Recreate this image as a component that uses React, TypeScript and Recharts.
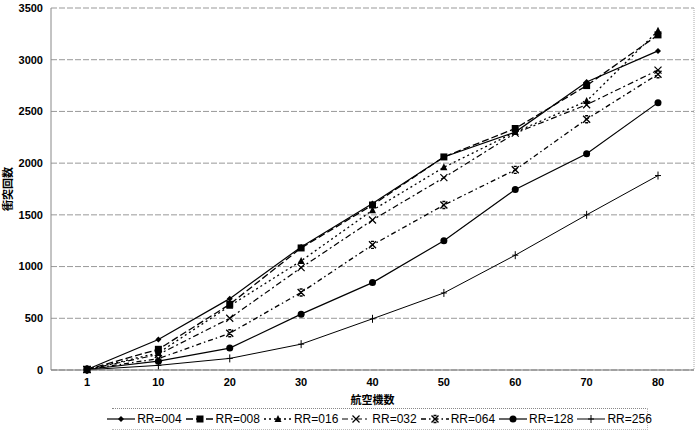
import React from "react";
import {
  LineChart,
  Line,
  XAxis,
  YAxis,
  CartesianGrid,
  Legend,
  Label,
} from "recharts";

// 航空機数 (x categories)
const aircraft = ["1", "10", "20", "30", "40", "50", "60", "70", "80"];

// 衝突回数 per RR setting
const rr004 = [5, 295, 690, 1190, 1610, 2060, 2300, 2785, 3085];
const rr008 = [5, 200, 635, 1180, 1595, 2060, 2335, 2750, 3240];
const rr016 = [5, 165, 620, 1055, 1545, 1960, 2300, 2600, 3280];
const rr032 = [5, 150, 500, 990, 1450, 1860, 2290, 2565, 2900];
const rr064 = [5, 110, 355, 750, 1210, 1595, 1935, 2425, 2860];
const rr128 = [5, 85, 212, 540, 845, 1250, 1745, 2090, 2585];
const rr256 = [2, 45, 112, 250, 495, 745, 1110, 1500, 1880];

const yTicks = [0, 500, 1000, 1500, 2000, 2500, 3000, 3500];

type Marker = "diamond" | "square" | "triangle" | "x" | "star" | "circle" | "plus";

const seriesList: { key: string; name: string; marker: Marker; dash?: string; width: number }[] = [
  { key: "rr004", name: "RR=004", marker: "diamond", width: 1.2 },
  { key: "rr008", name: "RR=008", marker: "square", dash: "7 3", width: 1.3 },
  { key: "rr016", name: "RR=016", marker: "triangle", dash: "2 3", width: 1.3 },
  { key: "rr032", name: "RR=032", marker: "x", dash: "6 3 2 3", width: 1.2 },
  { key: "rr064", name: "RR=064", marker: "star", dash: "5 3 1.5 3", width: 1.3 },
  { key: "rr128", name: "RR=128", marker: "circle", width: 1.2 },
  { key: "rr256", name: "RR=256", marker: "plus", width: 1 },
];

const data = aircraft.map((a, i) => ({
  a,
  rr004: rr004[i],
  rr008: rr008[i],
  rr016: rr016[i],
  rr032: rr032[i],
  rr064: rr064[i],
  rr128: rr128[i],
  rr256: rr256[i],
}));

function MarkerShape({ kind, cx, cy }: { kind: Marker; cx: number; cy: number }) {
  const c = "#000";
  switch (kind) {
    case "diamond":
      return <path d={`M${cx},${cy - 3}L${cx + 3},${cy}L${cx},${cy + 3}L${cx - 3},${cy}Z`} fill={c} />;
    case "square":
      return <rect x={cx - 3.5} y={cy - 3.5} width={7} height={7} fill={c} />;
    case "triangle":
      return <path d={`M${cx},${cy - 4}L${cx + 3.5},${cy + 3}L${cx - 3.5},${cy + 3}Z`} fill={c} />;
    case "x":
      return (
        <path d={`M${cx - 3.5},${cy - 3.5}L${cx + 3.5},${cy + 3.5}M${cx + 3.5},${cy - 3.5}L${cx - 3.5},${cy + 3.5}`} stroke={c} strokeWidth={1.2} fill="none" />
      );
    case "star":
      return (
        <path
          d={`M${cx - 3.5},${cy - 3.5}L${cx + 3.5},${cy + 3.5}M${cx + 3.5},${cy - 3.5}L${cx - 3.5},${cy + 3.5}M${cx - 1.5},${cy - 3.5}L${cx + 1.5},${cy - 3.5}M${cx - 1.5},${cy + 3.5}L${cx + 1.5},${cy + 3.5}`}
          stroke={c}
          strokeWidth={1.4}
          fill="none"
        />
      );
    case "circle":
      return <circle cx={cx} cy={cy} r={3.5} fill={c} />;
    case "plus":
      return <path d={`M${cx},${cy - 4}L${cx},${cy + 4}M${cx - 3},${cy}L${cx + 3},${cy}`} stroke={c} strokeWidth={1} fill="none" />;
  }
  return null;
}

const makeDot = (kind: Marker) => (props: any) => {
  const { cx, cy, index } = props;
  if (cx == null || cy == null) return <g key={`d-${kind}-${index}`} />;
  return (
    <g key={`d-${kind}-${index}`}>
      <MarkerShape kind={kind} cx={cx} cy={cy} />
    </g>
  );
};

const font = '"Liberation Sans", Arial, sans-serif';
const jpFont = '"Noto Sans CJK JP", sans-serif';

function LegendBox() {
  return (
    <div
      style={{
        display: "flex",
        justifyContent: "center",
        alignItems: "center",
        height: 20,
        borderTop: "1px dotted #888",
        borderBottom: "1px dotted #bbb",
        borderRight: "1px dotted #bbb",
        fontFamily: font,
        fontSize: 12,
        color: "#000",
        gap: 4,
      }}
    >
      {seriesList.map((s) => (
        <span key={s.key} style={{ display: "inline-flex", alignItems: "center" }}>
          <svg width={28} height={10}>
            <line x1={0} y1={5} x2={28} y2={5} stroke="#000" strokeWidth={s.width} strokeDasharray={s.dash} />
            <MarkerShape kind={s.marker} cx={14} cy={5} />
          </svg>
          <span style={{ marginLeft: 2 }}>{s.name}</span>
        </span>
      ))}
    </div>
  );
}

export default function App() {
  return (
    <div style={{ position: "absolute", left: 0, top: 0, background: "#fff" }}>
      <LineChart
        width={700}
        height={435}
        data={data}
        margin={{ top: 8, right: 5, left: 0, bottom: 3 }}
      >
        <CartesianGrid vertical={false} stroke="#999" strokeDasharray="6 2" />
        <XAxis
          dataKey="a"
          height={40}
          padding={{ left: 36, right: 36 }}
          tickLine={false}
          axisLine={{ stroke: "#777" }}
          tick={{ fontSize: 11, fill: "#000", fontFamily: font, fontWeight: "bold" }}
        >
          <Label
            value="航空機数"
            position="insideBottom"
            offset={6}
            style={{ fontSize: 11, fill: "#000", fontFamily: jpFont, fontWeight: "bold" }}
          />
        </XAxis>
        <YAxis
          width={51}
          domain={[0, 3500]}
          ticks={yTicks}
          interval={0}
          tickLine={false}
          axisLine={{ stroke: "#888" }}
          tick={{ fontSize: 11, fill: "#000", fontFamily: font, fontWeight: "bold" }}
        >
          <Label
            value="衝突回数"
            angle={-90}
            position="insideLeft"
            offset={8}
            style={{ fontSize: 11, fill: "#000", fontFamily: jpFont, fontWeight: "bold", textAnchor: "middle" }}
          />
        </YAxis>
        <YAxis
          yAxisId="frame"
          orientation="right"
          width={1}
          domain={[0, 3500]}
          tick={false}
          tickLine={false}
          axisLine={{ stroke: "#aaa", strokeDasharray: "1 1" }}
        />
        {seriesList.map((s) => (
          <Line
            key={s.key}
            dataKey={s.key}
            name={s.name}
            type="linear"
            stroke="#000"
            strokeWidth={s.width}
            strokeDasharray={s.dash}
            dot={makeDot(s.marker)}
            activeDot={false}
            isAnimationActive={false}
          />
        ))}
        <Legend
          verticalAlign="bottom"
          content={() => <LegendBox />}
          wrapperStyle={{ left: 112, width: 536, bottom: 5, height: 22 }}
        />
      </LineChart>
    </div>
  );
}
